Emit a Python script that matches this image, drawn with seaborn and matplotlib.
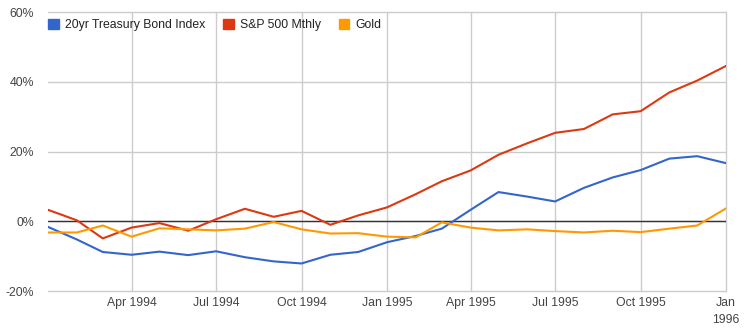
import matplotlib
matplotlib.use("Agg")
import matplotlib.pyplot as plt
from matplotlib.patches import Patch
import pandas as pd
import seaborn as sns

# Monthly cumulative returns (%), Jan 1994 - Jan 1996
months = pd.date_range("1994-01-01", periods=25, freq="MS")
bond = [-1.6, -5.2, -8.8, -9.6, -8.7, -9.7, -8.6, -10.3, -11.5, -12.1, -9.6, -8.8,
        -6.0, -4.2, -2.1, 3.3, 8.4, 7.1, 5.7, 9.6, 12.6, 14.7, 18.0, 18.7, 16.7]
sp500 = [3.3, 0.3, -4.9, -1.8, -0.5, -2.7, 0.6, 3.6, 1.3, 3.0, -1.0, 1.7,
         4.0, 7.8, 11.5, 14.6, 19.1, 22.4, 25.4, 26.5, 30.7, 31.6, 37.0, 40.4, 44.6]
gold = [-3.2, -3.2, -1.2, -4.4, -2.0, -2.3, -2.6, -2.1, -0.2, -2.3, -3.5, -3.4,
        -4.4, -4.6, -0.3, -1.8, -2.6, -2.3, -2.8, -3.2, -2.7, -3.1, -2.1, -1.2, 3.7]
series_names = ["20yr Treasury Bond Index", "S&P 500 Mthly", "Gold"]
series_colors = ["#3366cc", "#dc3912", "#ff9900"]
y_ticks = [-20, 0, 20, 40, 60]
x_tick_dates = pd.date_range("1994-04-01", "1996-01-01", freq="QS")
x_tick_labels = ["Apr 1994", "Jul 1994", "Oct 1994", "Jan 1995", "Apr 1995",
                 "Jul 1995", "Oct 1995", "Jan\n1996"]

df = pd.concat([
    pd.DataFrame({"month": months, "value": vals, "series": name})
    for name, vals in zip(series_names, [bond, sp500, gold])
])

sns.set_theme(style="white")
plt.rcParams["font.family"] = ["Liberation Sans", "DejaVu Sans"]

fig = plt.figure(figsize=(7.51, 3.32), dpi=100)
W, H = 751, 332
ax = fig.add_axes([48 / W, (H - 291) / H, (726 - 48) / W, (291 - 12.3) / H])

sns.lineplot(data=df, x="month", y="value", hue="series", hue_order=series_names,
             palette=series_colors, linewidth=1.5, ax=ax, legend=False, zorder=3)

ax.axhline(0, color="#333333", linewidth=1.0, zorder=2)

ax.set_xlim(pd.Timestamp("1994-01-01"), pd.Timestamp("1996-01-01"))
ax.set_ylim(-20, 60)
ax.set_yticks(y_ticks)
ax.set_yticklabels([f"{t}%" for t in y_ticks])
ax.set_xticks(x_tick_dates)
ax.set_xticklabels(x_tick_labels, linespacing=1.55)
ax.grid(True, color="#cccccc", linewidth=1.0, zorder=0)
for line in ax.get_xgridlines() + ax.get_ygridlines():
    line.set_clip_on(False)
for s in ax.spines.values():
    s.set_visible(False)
ax.tick_params(axis="both", length=0, labelsize=8.8, colors="#444444")
ax.tick_params(axis="y", pad=10)
ax.tick_params(axis="x", pad=4)
ax.set_xlabel("")
ax.set_ylabel("")

handles = [Patch(facecolor=c, edgecolor=c) for c in series_colors]
leg = ax.legend(handles, series_names, loc="upper left", ncol=3, frameon=False,
                bbox_to_anchor=(-0.007, 0.993), handlelength=0.85, handleheight=0.85,
                handletextpad=0.5, columnspacing=1.5, fontsize=8.8,
                borderaxespad=0.0)
for t in leg.get_texts():
    t.set_color("#222222")

fig.savefig("out.png", dpi=100, facecolor="white")
